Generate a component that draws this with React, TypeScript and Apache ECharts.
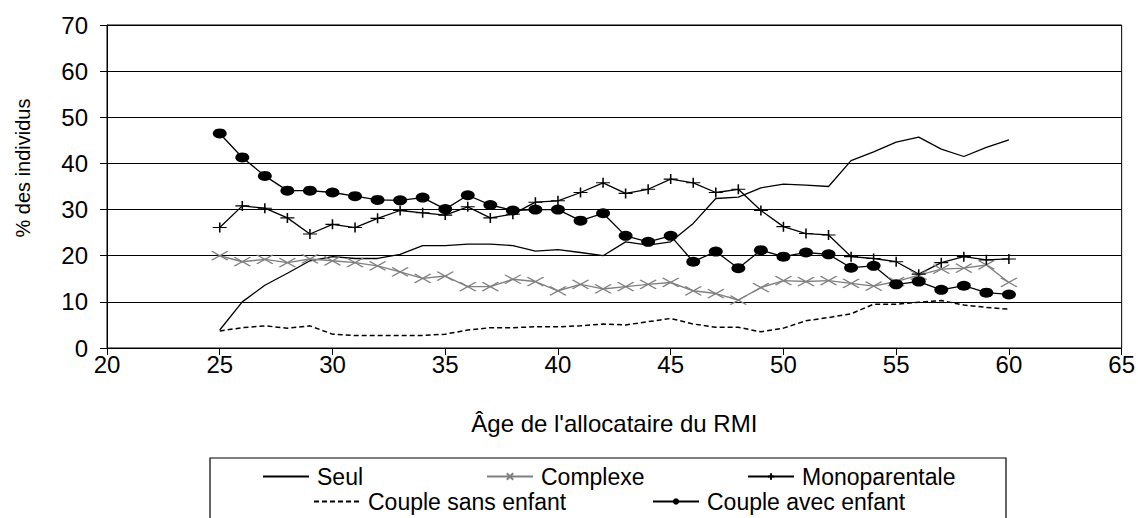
import React, { useEffect, useRef } from "react";
import * as echarts from "echarts";

const ages = [25, 26, 27, 28, 29, 30, 31, 32, 33, 34, 35, 36, 37, 38, 39, 40, 41, 42, 43, 44, 45, 46, 47, 48, 49, 50, 51, 52, 53, 54, 55, 56, 57, 58, 59, 60];

const seul = [3.9, 10.0, 13.6, 16.2, 18.9, 19.8, 19.4, 19.4, 20.3, 22.2, 22.2, 22.5, 22.5, 22.2, 21.0, 21.3, 20.7, 20.0, 23.0, 22.3, 23.0, 27.0, 32.4, 32.7, 34.7, 35.5, 35.3, 35.0, 40.6, 42.5, 44.6, 45.7, 43.1, 41.5, 43.5, 45.1];
const complexe = [20.0, 18.7, 19.2, 18.5, 19.3, 18.9, 18.5, 17.8, 16.5, 15.1, 15.6, 13.3, 13.3, 14.9, 14.4, 12.4, 13.8, 12.8, 13.3, 13.8, 14.2, 12.4, 11.8, 10.4, 13.1, 14.6, 14.4, 14.6, 14.0, 13.4, 14.4, 15.8, 17.1, 17.3, 18.0, 14.2];
const monoparentale = [26.1, 30.8, 30.3, 28.2, 24.7, 26.8, 26.1, 28.1, 29.8, 29.3, 28.8, 30.6, 28.2, 29.0, 31.6, 31.9, 33.7, 35.8, 33.5, 34.4, 36.6, 35.8, 33.7, 34.4, 29.8, 26.3, 24.8, 24.5, 19.8, 19.4, 18.7, 16.0, 18.5, 19.8, 19.1, 19.3];
const coupleSans = [3.7, 4.4, 4.8, 4.3, 4.8, 3.0, 2.7, 2.7, 2.7, 2.7, 3.0, 3.9, 4.4, 4.4, 4.6, 4.6, 4.8, 5.2, 5.0, 5.7, 6.4, 5.2, 4.5, 4.5, 3.5, 4.3, 5.9, 6.6, 7.4, 9.5, 9.5, 9.9, 10.3, 9.3, 8.8, 8.4];
const coupleAvec = [46.5, 41.3, 37.3, 34.1, 34.1, 33.7, 32.9, 32.1, 32.0, 32.6, 30.1, 33.1, 31.0, 29.8, 30.0, 30.0, 27.6, 29.2, 24.3, 23.0, 24.3, 18.7, 20.9, 17.3, 21.2, 19.8, 20.7, 20.3, 17.4, 17.8, 13.8, 14.4, 12.6, 13.5, 12.0, 11.6];

const seriesNames = ["Seul", "Complexe", "Monoparentale", "Couple sans enfant", "Couple avec enfant"];
const xTicks = { min: 20, max: 65, interval: 5 };
const yTicks = { min: 0, max: 70, interval: 10 };
const xTitle = "Âge de l'allocataire du RMI";
const yTitle = "% des individus";

const FONT = "'Liberation Sans', Arial, Helvetica, sans-serif";

const pairs = (vals: number[]) => ages.map((a, i) => [a, vals[i]]);

export default function App() {
  const ref = useRef<HTMLDivElement>(null);
  useEffect(() => {
    if (!ref.current) return;
    const chart = echarts.init(ref.current, undefined, { renderer: "svg" });
    const legendBase = {
      orient: "horizontal",
      padding: 0,
      itemWidth: 46,
      itemHeight: 8,
      selectedMode: false,
      textStyle: { fontSize: 23, color: "#000", fontFamily: FONT, padding: [0, 0, 0, 3] },
    };
    const crossPath = "path://M0,0L16,9M0,9L16,0";
    const plusPath = "path://M0,5L14,5M7,0L7,10";
    chart.setOption({
      animation: false,
      textStyle: { fontFamily: FONT },
      grid: { left: 107, right: 12, top: 25, bottom: 170, show: true, borderColor: "#000", borderWidth: 1, containLabel: false },
      xAxis: {
        type: "value",
        min: xTicks.min,
        max: xTicks.max,
        interval: xTicks.interval,
        name: xTitle,
        nameLocation: "middle",
        nameGap: 63,
        nameTextStyle: { fontSize: 24, color: "#000", fontFamily: FONT },
        axisLine: { show: true, lineStyle: { color: "#000", width: 1 } },
        axisTick: { show: true, length: 7, lineStyle: { color: "#000" } },
        axisLabel: { fontSize: 24, color: "#000", margin: 4, fontFamily: FONT },
        splitLine: { show: false },
      },
      yAxis: {
        type: "value",
        min: yTicks.min,
        max: yTicks.max,
        interval: yTicks.interval,
        axisLine: { show: true, lineStyle: { color: "#000", width: 1 } },
        axisTick: { show: true, length: 7, lineStyle: { color: "#000" } },
        axisLabel: { fontSize: 24, color: "#000", margin: 19, fontFamily: FONT },
        splitLine: { show: true, lineStyle: { color: "#000", width: 1 } },
      },
      legend: [
        { ...legendBase, data: [{ name: seriesNames[0], itemStyle: { opacity: 0 } }], left: 262, top: 465 },
        { ...legendBase, data: [seriesNames[1]], left: 486, top: 465 },
        { ...legendBase, data: [seriesNames[2]], left: 747, top: 465 },
        { ...legendBase, data: [{ name: seriesNames[3], itemStyle: { opacity: 0 } }], left: 313, top: 490 },
        { ...legendBase, data: [seriesNames[4]], left: 652, top: 490 },
      ],
      graphic: [
        {
          type: "rect",
          shape: { x: 210, y: 458, width: 796, height: 80 },
          style: { fill: "none", stroke: "#000", lineWidth: 1.2 },
          silent: true,
        },
        {
          type: "text",
          x: 23,
          y: 168,
          rotation: Math.PI / 2,
          silent: true,
          style: {
            text: yTitle,
            fill: "#000",
            font: `20px ${FONT}`,
            textAlign: "center",
            textVerticalAlign: "middle",
          },
        },
      ],
      series: [
        {
          name: seriesNames[0],
          type: "line",
          data: pairs(seul),
          showSymbol: false,
          symbol: "none",
          lineStyle: { color: "#000", width: 1.3 },
          itemStyle: { color: "#000" },
        },
        {
          name: seriesNames[1],
          type: "line",
          data: pairs(complexe),
          symbol: crossPath,
          symbolSize: [16, 9],
          showAllSymbol: true,
          lineStyle: { color: "#808080", width: 1.4 },
          itemStyle: { color: "none", borderColor: "#808080", borderWidth: 1.4 },
        },
        {
          name: seriesNames[2],
          type: "line",
          data: pairs(monoparentale),
          symbol: plusPath,
          symbolSize: [14, 10],
          showAllSymbol: true,
          lineStyle: { color: "#000", width: 1.3 },
          itemStyle: { color: "none", borderColor: "#000", borderWidth: 1.3 },
        },
        {
          name: seriesNames[3],
          type: "line",
          data: pairs(coupleSans),
          showSymbol: false,
          symbol: "none",
          lineStyle: { color: "#000", width: 1.5, type: [5, 3] },
          itemStyle: { color: "#000" },
        },
        {
          name: seriesNames[4],
          type: "line",
          data: pairs(coupleAvec),
          symbol: "circle",
          symbolSize: [14, 10],
          showAllSymbol: true,
          lineStyle: { color: "#000", width: 1.3 },
          itemStyle: { color: "#000", borderColor: "#000", borderWidth: 0 },
        },
      ],
    });
    return () => chart.dispose();
  }, []);
  return (
    <div
      ref={ref}
      style={{ position: "fixed", left: 0, top: 0, width: 1138, height: 518, background: "#fff" }}
    />
  );
}
